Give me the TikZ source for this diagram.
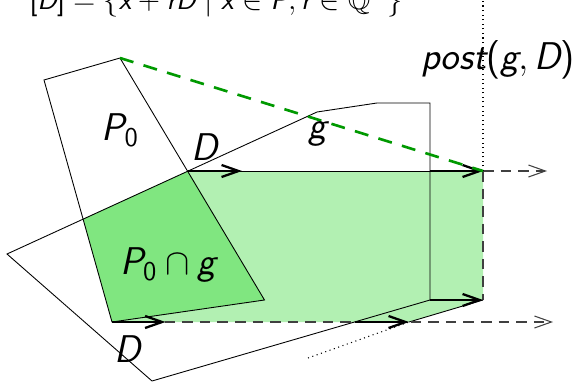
\documentclass[tikz,border=0pt]{standalone}
\usepackage{tikz}
\usetikzlibrary{arrows.meta}
\usepackage{amsmath}
\usepackage{amssymb}
\definecolor{postgreen}{RGB}{178,240,178}
\definecolor{capgreen}{RGB}{128,230,128}
\newcommand{\up}[1]{\textup{#1}}
\newcommand{\mv}[1]{\textit{#1}}

\begin{document}
\begin{tikzpicture}[
    thin_line/.style={line width=0.5pt},
    push_arrow/.style={-{Straight Barb[length=3.4mm,width=2.4mm]}, line width=1.3pt},
    ray_dash/.style={black!75, line width=0.6pt, dash pattern=on 6pt off 4pt},
    ray_arrow/.style={ray_dash, -{Straight Barb[length=3.4mm,width=2.4mm]}},
    border_dash/.style={green!60!black, line width=1.5pt, dash pattern=on 8pt off 6pt},
    label_text/.style={font=\fontsize{22}{26}\selectfont\sffamily\itshape},
    title_text/.style={font=\fontsize{16.5}{20}\selectfont\sffamily\itshape}
]
    \useasboundingbox (0,0) rectangle (11.64,7.64);
    % P0
    \coordinate (P1) at (0.88,6.04);
    \coordinate (P2) at (2.40,6.48);
    \coordinate (P3) at (5.29,1.64);
    \coordinate (P4) at (2.24,1.20);
    % g
    \coordinate (G1) at (0.14,2.56);
    \coordinate (G2) at (6.34,5.40);
    \coordinate (G3) at (7.54,5.58);
    \coordinate (G4) at (8.60,5.58);
    \coordinate (G5) at (8.60,1.64);
    \coordinate (G6) at (3.04,0.02);
    % corners of P0 cap g and of post(g,D)
    \coordinate (X1) at (1.66,3.26);
    \coordinate (D1) at (3.76,4.22);
    \coordinate (E1) at (9.66,4.22);
    \coordinate (E2) at (9.66,1.64);
    \coordinate (E3) at (8.18,1.20);
    \coordinate (C1) at (8.60,4.22);
    \coordinate (C2) at (7.09,1.20);
    \coordinate (D1b) at (4.84,4.22);
    \coordinate (P4b) at (3.31,1.20);
    \coordinate (F1) at (10.94,4.22);
    \coordinate (F2) at (11.06,1.20);
    \coordinate (T1) at (9.66,7.64);
    \coordinate (B1) at (6.16,0.48);

    \fill[postgreen] (D1) -- (E1) -- (E2) -- (E3) -- (P4) -- cycle;
    \fill[capgreen] (X1) -- (D1) -- (P3) -- (P4) -- cycle;

    \draw[thin_line] (P1) -- (P2) -- (P3) -- (P4) -- cycle;
    \draw[thin_line] (G1) -- (G2) -- (G3) -- (G4) -- (G5) -- (G6) -- cycle;
    \draw[thin_line] (D1) -- (C1);
    \draw[thin_line] (E2) -- (E3);

    \draw[ray_arrow] (E1) -- (F1);
    \draw[ray_arrow] (P4) -- (F2);
    \draw[ray_dash] (E1) -- (E2);
    \draw[dotted, line width=0.6pt] (E1) -- (T1);
    \draw[dotted, line width=0.6pt] (B1) -- (E3);

    \draw[push_arrow] (D1) -- (D1b);
    \draw[push_arrow] (P4) -- (P4b);
    \draw[push_arrow] (C1) -- (E1);
    \draw[push_arrow] (G5) -- (E2);
    \draw[push_arrow] (C2) -- (E3);

    \draw[border_dash] (P2) -- (E1);

    \node[label_text] (lP0) at (2.40,5.04) {$\mv{P}_{\up{0}}$};
    \node[label_text] (lD1) at (4.10,4.70) {$\mv{D}$};
    \node[label_text] (lD2) at (2.56,0.66) {$\mv{D}$};
    \node[label_text] (lcap) at (3.36,2.34) {$\mv{P}_{\up{0}} \cap \mv{g}$};
    \node[label_text] (lg) at (6.36,4.96) {$\mv{g}$};
    \node[label_text] (lpost) at (9.96,6.45) {$\mv{post}\up{(}\mv{g}, \mv{D}\up{)}$};
    \node[title_text, anchor=base] (lhull) at (4.32,7.45)
        {$\up{[}\mv{D}\up{]} = \{\mv{x} + \mv{rD} \mid \mv{x} \in \mv{P}, \mv{r} \in \mathbb{Q}^{+}\}$};
\end{tikzpicture}
\end{document}
